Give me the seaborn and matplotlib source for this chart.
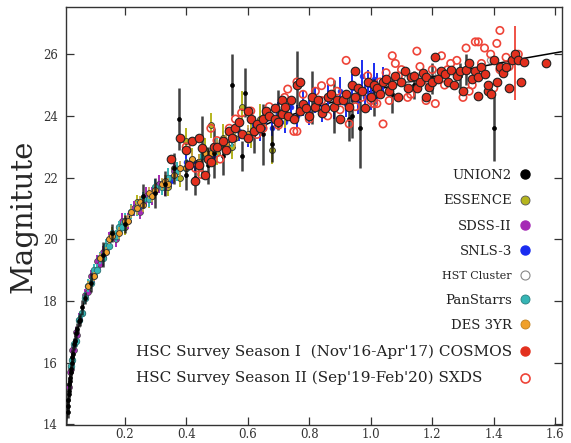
import numpy as np
import pandas as pd
import matplotlib
matplotlib.use("Agg")
import matplotlib.pyplot as plt
import seaborn as sns
from matplotlib.lines import Line2D

# ---------------- data ----------------
# model curve
z_model = [0.009, 0.015, 0.02, 0.03, 0.045, 0.07, 0.1, 0.15, 0.2, 0.25, 0.3, 0.4, 0.5,
           0.6, 0.7, 0.8, 0.9, 1.0, 1.1, 1.2, 1.3, 1.4, 1.5, 1.62]
m_model = [13.7, 14.65, 15.25, 16.15, 17.0, 18.05, 18.9, 19.86, 20.56, 21.11, 21.58, 22.34,
           22.95, 23.46, 23.9, 24.22, 24.52, 24.8, 25.05, 25.27, 25.48, 25.68, 25.87, 26.08]

# UNION2
z_union = [0.015,0.016,0.017,0.018,0.019,0.020,0.021,0.022,0.024,0.025,0.027,0.030,0.032,0.035,0.038,
           0.042,0.046,0.050,0.055,0.062,0.070,0.090,0.130,0.160,0.200,0.260,0.300,0.330,0.360,0.375,
           0.400,0.430,0.450,0.470,0.490,0.520,0.550,0.580,0.590,0.620,0.650,0.680,0.700,0.760,0.810,
           0.880,0.930,0.940,0.965,1.010,1.070,1.140,1.200,1.290,1.310,1.400]
m_union = [14.4,14.8,14.6,15.1,15.0,15.3,15.5,15.4,15.8,15.7,16.0,16.2,16.3,16.6,16.7,
           16.95,17.1,17.35,17.4,17.8,18.1,18.6,19.5,20.2,20.5,21.4,21.5,21.8,22.3,23.9,
           22.1,22.0,23.0,22.4,22.8,22.7,25.0,22.7,24.75,23.4,23.4,23.1,24.2,25.0,24.6,
           24.3,23.9,24.0,23.6,24.6,24.7,25.0,25.2,25.3,25.5,23.6]
e_union = [0.2,0.25,0.2,0.2,0.25,0.2,0.2,0.25,0.2,0.2,0.2,0.2,0.25,0.2,0.2,
           0.25,0.2,0.2,0.2,0.25,0.2,0.3,0.4,0.3,0.3,0.4,0.5,0.4,0.5,1.0,
           0.5,0.55,1.0,0.6,0.8,0.6,1.0,0.5,0.8,0.6,1.0,0.6,0.65,1.1,0.85,
           0.85,0.7,0.7,1.3,0.6,0.6,0.45,0.5,0.4,0.5,1.05]

# ESSENCE
z_ess = [0.16,0.2,0.24,0.28,0.31,0.34,0.36,0.38,0.4,0.42,0.44,0.46,0.48,0.5,0.52,0.55,0.58,0.61,0.64,0.68,0.72]
m_ess = [20.2,20.4,21.2,21.3,21.8,21.7,22.3,22.0,23.2,22.6,22.4,22.9,23.7,22.8,23.3,23.0,24.3,23.4,23.9,22.9,24.1]
e_ess = [0.2,0.25,0.25,0.3,0.3,0.3,0.35,0.3,0.4,0.35,0.35,0.4,0.4,0.4,0.45,0.4,0.5,0.45,0.5,0.45,0.5]

# SDSS-II
z_sdss = [0.018,0.022,0.026,0.03,0.035,0.04,0.045,0.05,0.06,0.07,0.08,0.09,0.1,0.11,0.12,0.13,0.14,
          0.15,0.17,0.19,0.21,0.23,0.25,0.27,0.29,0.31,0.33,0.36]
m_sdss = [15.2,15.7,15.8,16.4,16.4,17.0,16.9,17.4,17.6,18.2,18.3,18.8,18.8,19.3,19.2,19.6,19.6,
          20.0,20.0,20.6,20.6,21.0,20.9,21.4,21.4,21.8,21.7,22.2]
e_sdss = [0.15,0.15,0.15,0.15,0.15,0.15,0.2,0.2,0.2,0.2,0.2,0.2,0.2,0.2,0.2,0.2,0.2,
          0.25,0.25,0.25,0.25,0.25,0.25,0.3,0.3,0.3,0.3,0.3]

# SNLS-3
z_snls = [0.25,0.3,0.35,0.4,0.43,0.46,0.49,0.52,0.55,0.57,0.6,0.62,0.64,0.66,0.68,0.7,0.72,0.74,
          0.76,0.78,0.8,0.82,0.84,0.86,0.88,0.9,0.92,0.94,0.96,0.97,0.98,0.99,1.0,1.01,1.02,1.04]
m_snls = [21.0,21.7,21.9,22.5,22.4,22.9,22.7,23.2,23.0,23.5,23.3,23.7,23.5,23.9,23.6,24.1,23.8,24.3,
          24.0,24.4,24.1,24.5,24.2,24.6,24.3,24.8,24.4,24.9,24.5,25.3,24.6,25.0,24.7,25.2,24.9,25.1]
e_snls = [0.2,0.2,0.2,0.25,0.25,0.25,0.25,0.3,0.3,0.3,0.3,0.3,0.3,0.35,0.35,0.35,0.35,0.35,
          0.35,0.4,0.4,0.4,0.4,0.4,0.4,0.45,0.45,0.45,0.45,0.5,0.5,0.5,0.5,0.5,0.5,0.5]

# HST Cluster
z_hst = [1.02, 1.12, 1.22, 1.39]
m_hst = [24.9, 25.2, 25.4, 25.8]
e_hst = [0.3, 0.3, 0.3, 0.3]

# PanStarrs
z_ps = [0.025,0.03,0.035,0.04,0.05,0.06,0.07,0.08,0.09,0.1,0.11,0.12,0.13,0.14,0.15,0.16,
        0.17,0.18,0.19,0.2,0.22,0.24,0.26,0.28,0.3,0.32,0.34,0.37,0.4,0.45,0.5,0.55]
m_ps = [15.9,16.1,16.6,16.7,17.4,17.6,18.1,18.5,18.6,19.0,19.0,19.4,19.4,19.8,19.8,20.1,
        20.1,20.4,20.4,20.6,20.9,21.0,21.3,21.3,21.7,21.7,22.0,22.2,22.3,22.7,23.0,23.3]
e_ps = [0.15,0.15,0.15,0.15,0.15,0.15,0.2,0.2,0.2,0.2,0.2,0.2,0.2,0.2,0.2,0.2,
        0.2,0.2,0.2,0.25,0.25,0.25,0.25,0.25,0.25,0.25,0.3,0.3,0.3,0.3,0.3,0.3]

# DES 3YR
z_des = [0.08,0.1,0.12,0.14,0.15,0.16,0.18,0.2,0.21,0.22,0.24,0.25,0.26,0.28,0.29,0.3,
         0.32,0.33,0.34,0.36,0.38,0.4,0.42,0.44,0.46,0.48,0.5,0.53,0.56,0.6,0.65,0.7]
m_des = [18.5,18.8,19.4,19.6,20.0,20.1,20.2,20.6,20.6,20.9,21.0,21.2,21.1,21.5,21.4,21.6,
         21.8,21.9,21.8,22.1,22.3,22.3,22.6,22.5,22.8,22.8,23.0,23.1,23.3,23.4,23.7,23.9]
e_des = [0.15,0.15,0.15,0.15,0.15,0.15,0.2,0.2,0.2,0.2,0.2,0.2,0.2,0.2,0.2,0.2,
         0.2,0.2,0.2,0.25,0.25,0.25,0.25,0.25,0.25,0.25,0.25,0.3,0.3,0.3,0.3,0.3]

# HSC Season I COSMOS (z, mag)
cosmos = [
    (0.35,22.6),(0.38,23.3),(0.40,22.9),(0.41,22.4),(0.42,23.2),(0.43,21.9),(0.44,23.3),(0.44,22.4),(0.45,22.96),(0.46,22.1),
    (0.47,22.6),(0.48,22.5),(0.49,23.0),(0.50,23.0),(0.52,23.2),(0.53,22.9),(0.54,23.5),(0.55,23.3),(0.56,23.6),(0.57,23.8),
    (0.58,23.4),(0.60,24.16),(0.60,23.3),(0.61,23.9),(0.62,23.5),(0.63,23.74),(0.64,23.6),(0.65,23.9),(0.66,24.16),(0.67,24.0),
    (0.69,24.26),(0.69,23.9),(0.70,23.8),(0.71,24.5),(0.71,24.06),(0.72,24.3),(0.73,24.0),(0.74,24.5),(0.75,23.9),(0.76,25.0),
    (0.77,25.1),(0.77,24.16),(0.78,24.4),(0.79,24.26),(0.80,24.0),(0.81,24.6),(0.82,24.3),(0.83,24.5),(0.84,24.1),(0.85,24.26),
    (0.86,24.6),(0.87,24.7),(0.88,24.3),(0.89,24.5),(0.90,23.9),(0.91,24.5),(0.92,24.7),(0.93,24.3),(0.94,25.0),(0.95,25.47),
    (0.95,24.6),(0.96,24.9),(0.97,24.8),(0.98,24.26),(0.99,25.1),(1.00,24.6),(1.01,25.0),(1.02,24.9),(1.03,24.7),(1.04,25.1),
    (1.05,25.2),(1.06,24.8),(1.07,25.0),(1.08,25.3),(1.09,24.6),(1.10,25.1),(1.11,25.47),(1.12,24.9),(1.13,25.25),(1.14,25.3),
    (1.15,24.9),(1.16,25.1),(1.17,25.4),(1.18,25.25),(1.18,24.6),(1.19,24.95),(1.20,25.1),(1.21,25.9),(1.22,25.2),(1.23,25.47),
    (1.24,25.35),(1.25,25.1),(1.26,25.5),(1.27,25.0),(1.28,25.3),(1.29,25.47),(1.30,24.8),(1.31,25.5),(1.32,25.7),(1.33,25.2),
    (1.34,25.47),(1.35,25.25),(1.35,24.65),(1.36,25.6),(1.37,25.35),(1.38,24.8),(1.38,25.0),(1.39,24.7),(1.40,25.8),(1.41,25.1),
    (1.42,25.6),(1.43,25.4),(1.44,25.57),(1.45,24.9),(1.46,25.8),(1.47,26.0),(1.48,25.8),(1.49,25.1),(1.50,25.75),(1.57,25.7),
]

# HSC Season II SXDS (z, mag)
sxds = [
    (0.40,23.0),(0.43,22.3),(0.45,22.1),(0.48,23.6),(0.50,23.2),(0.51,22.6),(0.54,23.6),(0.56,23.9),(0.58,24.1),(0.61,24.16),
    (0.63,23.4),(0.65,23.6),(0.67,24.3),(0.70,23.7),(0.72,24.6),(0.73,24.87),(0.75,23.5),(0.76,25.1),(0.76,23.5),(0.78,24.7),
    (0.80,23.9),(0.82,24.8),(0.84,24.5),(0.84,24.98),(0.86,24.0),(0.87,25.1),(0.89,24.8),(0.90,24.2),(0.92,25.8),(0.93,23.74),
    (0.95,24.3),(0.97,24.6),(0.99,25.3),(1.00,24.5),(1.01,24.4),(1.02,24.4),(1.03,25.1),(1.04,23.74),(1.05,25.4),(1.06,24.5),
    (1.07,25.95),(1.08,25.7),(1.09,25.3),(1.10,25.5),(1.12,24.6),(1.13,24.7),(1.15,26.1),(1.16,25.6),(1.18,24.5),(1.19,25.1),
    (1.20,25.5),(1.21,24.4),(1.23,25.95),(1.24,25.0),(1.25,25.5),(1.26,25.7),(1.28,25.8),(1.30,24.6),(1.31,26.2),(1.32,24.8),
    (1.33,25.0),(1.34,26.4),(1.35,26.4),(1.36,25.7),(1.37,26.2),(1.39,26.0),(1.40,24.9),(1.41,26.35),(1.42,26.77),(1.42,25.5),
    (1.44,25.9),(1.45,25.6),(1.48,26.0),
]
# SXDS point with the large red error bar
z_sxds_big = [1.47]
m_sxds_big = [25.7]
e_sxds_big = [1.2]

labels = ["UNION2", "ESSENCE", "SDSS-II", "SNLS-3", "HST Cluster", "PanStarrs", "DES 3YR",
          "HSC Survey Season I  (Nov'16-Apr'17) COSMOS",
          "HSC Survey Season II (Sep'19-Feb'20) SXDS      "]
x_ticks = [0.2, 0.4, 0.6, 0.8, 1.0, 1.2, 1.4, 1.6]
y_ticks = [14, 16, 18, 20, 22, 24, 26]

# ---------------- style ----------------
sns.set_theme(style="ticks")
plt.rcParams['font.family'] = ['DejaVu Serif']
plt.rcParams['axes.edgecolor'] = '#333333'

fig = plt.figure(figsize=(5.71, 4.43), dpi=100)
ax = fig.add_axes([66/571, 18.5/443, 495.7/571, 417.2/443])

C_UNION = 'black'
C_ESS = '#b5b51e'
C_SDSS = '#a52ab5'
C_SNLS = '#1a2cf0'
C_PS = '#35b5b5'
C_DES = '#f0a02a'
C_COS = '#e3301e'
C_SXDS = '#ee4438'


def draw(z, m, e, face, ecol, s, edge, lw, elw, zo, ealpha=1.0):
    n = min(len(z), len(m), len(e))
    z, m, e = list(z[:n]), list(m[:n]), list(e[:n])
    ax.errorbar(z, m, yerr=e, fmt='none', ecolor=ecol, elinewidth=elw,
                capsize=0, zorder=zo, alpha=ealpha)
    df = pd.DataFrame({'z': z, 'm': m})
    sns.scatterplot(data=df, x='z', y='m', ax=ax, color=face, edgecolor=edge,
                    s=s, linewidth=lw, zorder=zo + 0.1, legend=False)


sns.lineplot(x=z_model, y=m_model, ax=ax, color='black', linewidth=1.1, zorder=1,
             sort=True, estimator=None)

draw(z_snls, m_snls, e_snls, C_SNLS, C_SNLS, 12, C_SNLS, 0.5, 1.4, 2)
draw(z_ess, m_ess, e_ess, C_ESS, C_ESS, 18, '#333333', 0.6, 1.4, 3)
draw(z_sdss, m_sdss, e_sdss, C_SDSS, C_SDSS, 18, '#444444', 0.5, 1.4, 3.2)
draw(z_ps, m_ps, e_ps, C_PS, C_PS, 22, '#2a7070', 0.6, 1.4, 3.4)
draw(z_des, m_des, e_des, C_DES, '#c8a040', 18, '#333333', 0.6, 1.2, 3.6)
draw(z_union, m_union, e_union, C_UNION, '#111111', 8, 'black', 0.5, 1.8, 4, ealpha=0.8)

# HST cluster: open grey circles
n = min(len(z_hst), len(m_hst))
sns.scatterplot(x=z_hst[:n], y=m_hst[:n], ax=ax, facecolor='none', edgecolor='#999999',
                s=22, linewidth=0.9, zorder=4.5, legend=False)

# SXDS open circles
z_sx = [p[0] for p in sxds]
m_sx = [p[1] for p in sxds]
sns.scatterplot(x=z_sx, y=m_sx, ax=ax, facecolor='none', edgecolor=C_SXDS,
                s=28, linewidth=1.2, zorder=5, legend=False)
ax.errorbar(z_sxds_big, m_sxds_big, yerr=e_sxds_big, fmt='none', ecolor=C_SXDS,
            elinewidth=1.3, capsize=0, zorder=5)

# COSMOS filled red
z_co = [p[0] for p in cosmos]
m_co = [p[1] for p in cosmos]
sns.scatterplot(x=z_co, y=m_co, ax=ax, color=C_COS, edgecolor='#222222',
                s=38, linewidth=0.8, zorder=6, legend=False)

# ---------------- axes ----------------
ax.set_xlim(0.009, 1.621)
ax.set_ylim(14, 27.52)
ax.set_xticks(x_ticks)
ax.set_xticklabels([f"{t:.1f}" for t in x_ticks])
ax.set_yticks(y_ticks)
ax.set_yticklabels([str(t) for t in y_ticks])
ax.tick_params(direction='in', length=6, width=0.9, top=True, right=True,
               labelsize=8.5, colors='#333333')
ax.tick_params(axis='x', pad=2.5)
ax.tick_params(axis='y', pad=6)
ax.set_xlabel('')
ax.set_ylabel('Magnitute', fontsize=21, labelpad=4)
for sp in ax.spines.values():
    sp.set_linewidth(1.0)
    sp.set_visible(True)

handles = [
    Line2D([], [], ls='', marker='o', ms=6.5, mfc='black', mec='black'),
    Line2D([], [], ls='', marker='o', ms=6.5, mfc=C_ESS, mec='#555555', mew=0.6),
    Line2D([], [], ls='', marker='o', ms=6.5, mfc=C_SDSS, mec=C_SDSS),
    Line2D([], [], ls='', marker='o', ms=6.5, mfc=C_SNLS, mec=C_SNLS),
    Line2D([], [], ls='', marker='o', ms=6.5, mfc='white', mec='#888888', mew=0.8),
    Line2D([], [], ls='', marker='o', ms=6.5, mfc=C_PS, mec='#2a8080', mew=0.6),
    Line2D([], [], ls='', marker='o', ms=6.5, mfc=C_DES, mec='#c08020', mew=0.6),
    Line2D([], [], ls='', marker='o', ms=6.5, mfc=C_COS, mec=C_COS),
    Line2D([], [], ls='', marker='o', ms=6.5, mfc='none', mec=C_SXDS, mew=1.2),
]
leg = ax.legend(handles, labels, loc='lower right', bbox_to_anchor=(0.958, 0.072),
                markerfirst=False, frameon=False, fontsize=9.5, labelspacing=0.93,
                handlelength=1.0, handletextpad=0.5, borderpad=0.2)
for t in leg.get_texts():
    t.set_color('#222222')
leg.get_texts()[4].set_fontsize(8)
leg.get_texts()[7].set_fontsize(11)
leg.get_texts()[8].set_fontsize(11)

fig.savefig('out.png', dpi=100)
